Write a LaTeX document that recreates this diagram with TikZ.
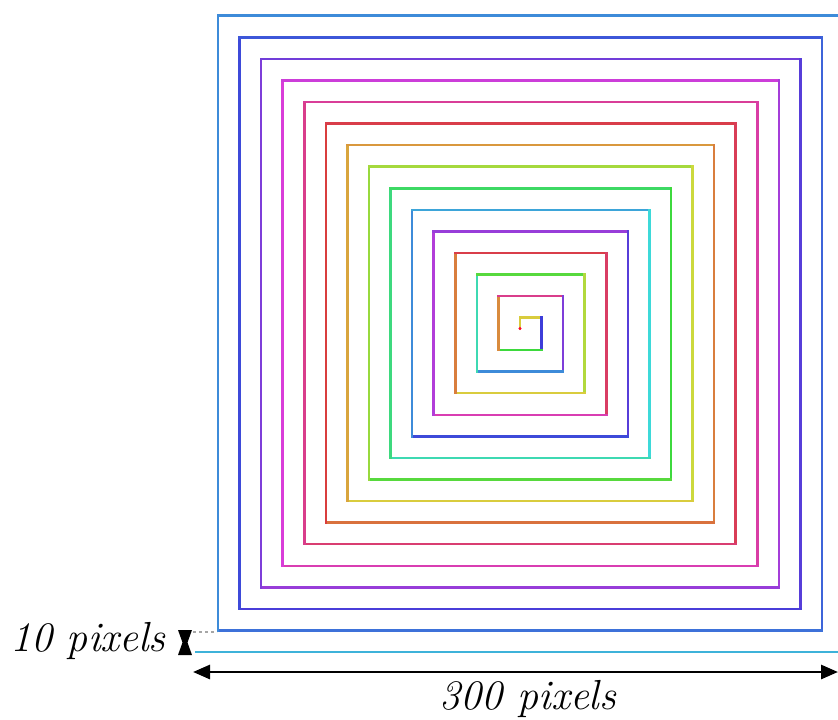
\documentclass[tikz,border=0pt]{standalone}
\usetikzlibrary{arrows.meta}
\begin{document}
\begin{tikzpicture}[x=1pt,y=-1pt,
  seg/.style={line width=2.5pt,line cap=rect},
  dim/.style={line width=2.8pt,black},
  lbl/.style={font=\fontsize{42}{46}\selectfont\itshape,inner sep=0pt}]
\clip (0,0) rectangle (838,720);
\fill[white] (0,0) rectangle (838,720);
\def\u{2.157}
\coordinate (p) at (520,328.5);
\foreach \h [count=\k] in {55,55,240,120,30,330,265,210,165,110,
  75,55,25,355,345,315,285,275,250,235,
  210,200,180,165,145,135,120,110,85,80,
  65,55,40,35,25,20,0,355,350,340,
  330,325,320,315,300,295,280,275,265,260,
  250,245,235,230,225,220,210,210,200,195}{
  \pgfmathtruncatemacro\d{mod(\k-1,4)}
  \pgfmathsetmacro\L{5*\k*\u}
  \pgfmathsetmacro\ddx{(\d==1)*\L-(\d==3)*\L}
  \pgfmathsetmacro\ddy{(\d==2)*\L-(\d==0)*\L}
  \convertcolorspec{Hsb}{\h,0.72,0.85}{rgb}\segspec
  \definecolor{segcol}{rgb}{\segspec}
  \draw[seg,segcol] (p) -- ++(\ddx,\ddy) coordinate (p);
}
\fill[red!80!magenta] (520,328.5) circle (1.6);
% dimension annotations
\coordinate (g1) at (193,632);
\coordinate (g2) at (217,632);
\draw[gray!70,dashed,line width=1.2pt] (g1) -- (g2);
\fill[black] (178,630) -- (192,630) -- (187.5,642.5) -- (192,655) -- (178,655) -- (182.5,642.5) -- cycle;
\coordinate (al) at (193,672);
\coordinate (ar) at (838,672);
\draw[dim,{Triangle[length=17pt,width=14pt]}-{Triangle[length=17pt,width=14pt]}] (al) -- (ar);
\node[lbl] (t300) at (528,699) {300 pixels};
\node[lbl] (t10) at (88,641) {10 pixels};
\end{tikzpicture}
\end{document}
